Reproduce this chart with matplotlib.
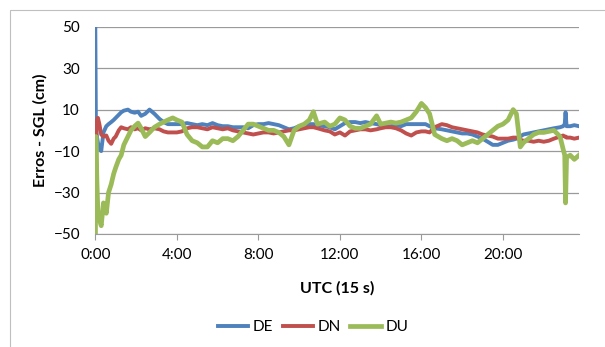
import matplotlib
matplotlib.use("Agg")
import matplotlib.pyplot as plt
from matplotlib.patches import Rectangle
from matplotlib.ticker import FuncFormatter

# time of day in hours (UTC), with denser samples around the jumps
hours = [0, 0.03, 0.08, 0.13, 0.2, 0.29, 0.4, 0.54, 0.65, 0.78, 0.9, 1.0, 1.15, 1.27,
         1.4, 1.6, 1.75, 1.93, 2.1, 2.25, 2.45, 2.66, 2.9, 3.15, 3.35, 3.56, 3.8, 4.0,
         4.25, 4.5, 4.75, 5.0, 5.25, 5.5, 5.75, 6.0, 6.25, 6.5, 6.75, 7.0, 7.25, 7.5,
         7.75, 8.0, 8.25, 8.5, 8.75, 9.0, 9.25, 9.5, 9.75, 10.0, 10.25, 10.5, 10.7, 10.9,
         11.25, 11.5, 11.75, 12.0, 12.25, 12.5, 12.75, 13.0, 13.25, 13.5, 13.8, 14.0,
         14.25, 14.5, 14.75, 15.0, 15.25, 15.5, 15.75, 16.0, 16.2, 16.4, 16.65, 17.0,
         17.25, 17.5, 17.75, 18.0, 18.25, 18.5, 18.75, 19.0, 19.25, 19.5, 19.75, 20.0,
         20.25, 20.5, 20.66, 20.85, 21.0, 21.25, 21.5, 21.75, 22.0, 22.25, 22.5, 22.8,
         22.95, 23.03, 23.07, 23.12, 23.3, 23.5, 23.73]

# errors in cm
de = [50, 2, -3, -6, -9, -10, -1, 2, 3, 4, 5, 6, 7.5, 8.7,
      9.5, 10, 9, 8.5, 9, 7, 8, 10, 8, 5.5, 4, 3, 3, 3,
      3, 3.5, 3, 2.5, 3, 2.5, 3.5, 2.5, 2, 2, 1.5, 1.5, 1.5, 1,
      2.5, 3, 3, 3.5, 3, 2.5, 1.5, 0.5, 1, 2, 2.5, 3, 3, 2.5,
      2, 1.5, 0.5, 2, 3.5, 4, 4, 3.5, 4, 3.5, 3, 2.5,
      2, 2, 2.5, 2, 3, 3, 3, 3, 3, 2, 1, 0.5,
      0, -0.5, -1, -1.5, -1.5, -2, -3, -4, -5.5, -7, -7, -6,
      -5, -4.5, -4, -3, -2, -1.5, -1, -0.5, 0, 0.5, 1, 1.5,
      2, 3, 8.7, 2, 2, 2.5, 2]

dn = [-50, -5, 5, 6, 3, -2, -3, -2.5, -5, -6.5, -4, -3, 0, 1.5,
      1, 0.5, 1.5, 0.5, 1, 0, 1, 0.5, 1, 0.5, -0.5, -1, -1, -1,
      -0.5, 1, 1.5, 1.5, 1, 0.5, 1.5, 1, 0.5, 1, 0, -0.5, -1, -1.5,
      -2, -1.5, -1, -1, -1.5, -1, -0.5, 0, 0, 0.5, 1, 1.5, 1.5, 1,
      0, -0.5, -2, -1, -2.5, -0.5, 0, 0.5, 0.5, 0, 0.5, 1,
      1.5, 1.5, 1, 0, -1.5, -2.5, -1, -0.5, -0.5, -1, 1.5, 3,
      2.5, 1.5, 1, 0.5, 0, -0.5, -1, -2, -2.5, -3, -4, -4,
      -4, -3.5, -3.5, -4.5, -5, -5, -5.5, -5, -5.5, -5, -4, -3,
      -2.5, -3, -3, -3.5, -3.5, -4, -3.5]

du = [-50, -3, -25, -40, -43, -46, -35, -40, -30, -26, -21, -18, -14, -12,
      -7, -3, 0, 2, 3.5, 1, -3, -1, 1.5, 3, 4, 5, 6, 5,
      4, -2, -5, -6, -8, -8, -5, -6, -4, -4, -5, -3, 0, 3,
      3, 2, 1, 0, 0, -1, -3, -7, 0, 2, 3, 5, 9, 3,
      4, 2, 3, 6, 5, 2, 1, 1, 2, 3, 7, 3,
      3.5, 4, 3.5, 4, 5, 6, 9, 13, 11, 8, -2, -4,
      -5, -4, -5, -7, -6, -5, -6, -4, -2, 0, 2, 3,
      5, 10, 8, -8, -6, -4, -2, -1, -1, -0.5, 0, -3,
      -9, -12, -35, -13, -12, -14, -12]

series = [("DE", de, "#4F81BD", 2.8), ("DN", dn, "#C0504D", 2.8), ("DU", du, "#9BBB59", 3.4)]

plt.rcParams['font.family'] = ['Lato', 'DejaVu Sans']
W, H = 605, 347

fig = plt.figure(figsize=(W / 100, H / 100), dpi=100)
# chart frame
fig.patches.append(Rectangle((10 / W, -0.1), 1.2, 1 - 10 / H + 0.1,
                             transform=fig.transFigure, fill=False,
                             edgecolor="#bfbfbf", linewidth=0.8))

ax = fig.add_axes([95.3 / W, 1 - 234 / H, (579 - 95.3) / W, (234 - 26.7) / H])

for name, vals, col, lw in series:
    ax.plot(hours, vals, color=col, linewidth=lw, label=name, solid_joinstyle="round")

ax.set_xlim(0, 23.73)
ax.set_ylim(-50, 50)
ax.set_yticks(range(-50, 51, 20))
ax.set_xticks(range(0, 21, 4))
ax.xaxis.set_major_formatter(FuncFormatter(lambda v, p: "%d:00" % v))
ax.grid(axis="y", color="#9a9a9a", linewidth=0.9)
ax.set_axisbelow(True)
for s in ["top", "right", "left"]:
    ax.spines[s].set_visible(False)
ax.spines["bottom"].set_color("#9a9a9a")
ax.tick_params(axis="y", length=0, labelsize=11, pad=11)
ax.tick_params(axis="x", length=4, color="#9a9a9a", labelsize=11, pad=6)

fig.text(40 / W, 1 - 130 / H, "Erros - SGL (cm)", rotation=90, fontsize=11.5,
         fontweight="bold", ha="center", va="center")
fig.text(337 / W, 1 - 288 / H, "UTC (15 s)", fontsize=11.5, fontweight="bold",
         ha="center", va="center")

fig.legend(loc="center", bbox_to_anchor=(313 / W, 1 - 327 / H), ncol=3,
           frameon=False, fontsize=11, handlelength=2.0, columnspacing=0.6,
           handletextpad=0.3)

fig.savefig("out.png", dpi=100)
